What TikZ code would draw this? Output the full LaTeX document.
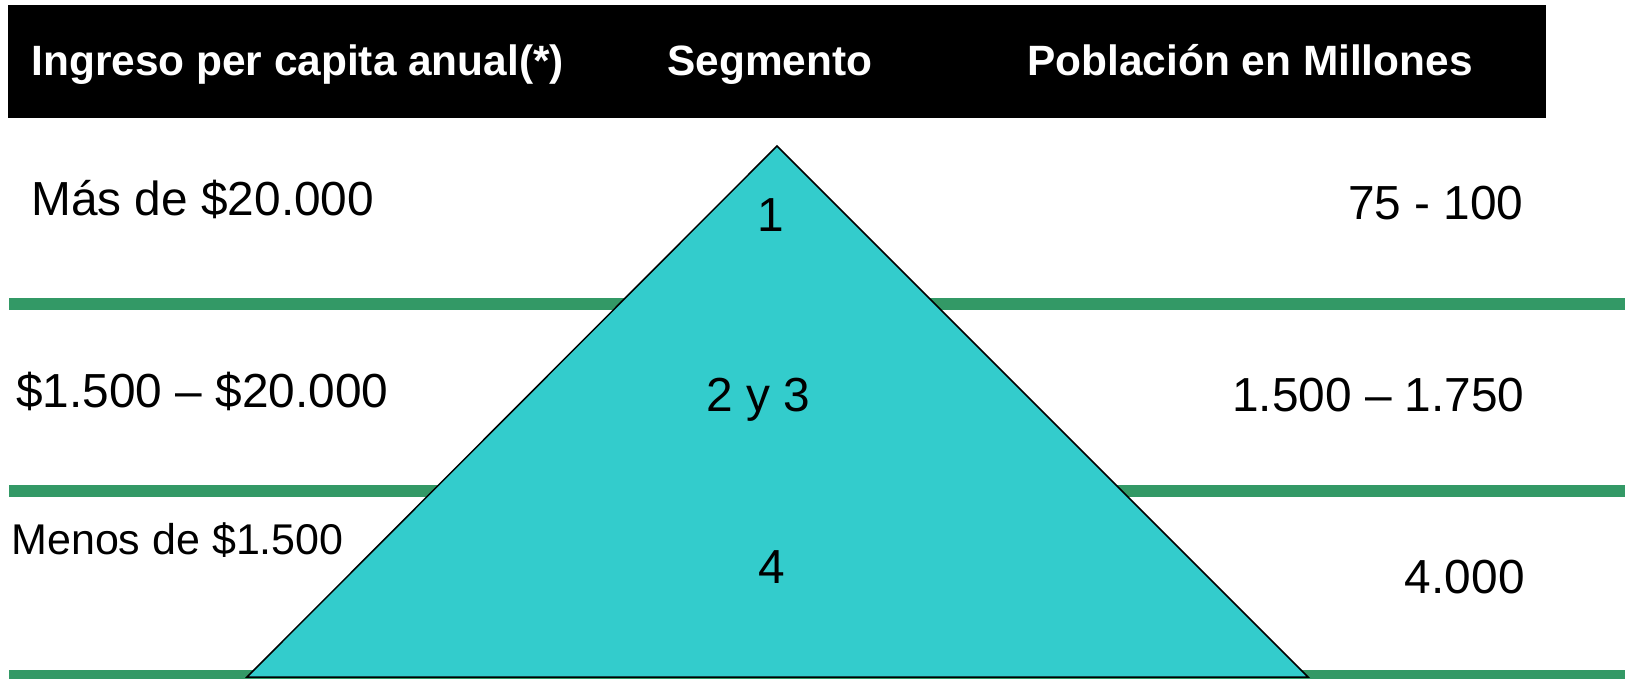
\documentclass[tikz,border=0pt]{standalone}
\usepackage{fontspec}
\setmainfont{Liberation Sans}
\usepackage{tikz}
\usetikzlibrary{positioning,calc}
\definecolor{pyramidteal}{HTML}{33CCCC}
\definecolor{rulegreen}{HTML}{339966}
\tikzset{
	headtext/.style={text=white, inner sep=0pt, font=\fontsize{21.2}{25}\selectfont\bfseries},
	celltext/.style={inner sep=0pt, font=\fontsize{23.9}{28}\selectfont},
	smallcell/.style={inner sep=0pt, font=\fontsize{21.5}{25}\selectfont},
	segrule/.style={rulegreen, line width=6pt},
	pyramid/.style={draw=black, fill=pyramidteal, line width=0.75pt, line join=miter}
}

\begin{document}
\begin{tikzpicture}[x=0.5pt, y=-0.5pt]
		\useasboundingbox (0,0) rectangle (1628,679);
		
		%% -- header bar
		\fill[black] (8,5) rectangle (1546,118);
		\node[headtext, anchor=base west] (hingreso) at (31,76) {Ingreso per capita anual(*)};
		\node[headtext, anchor=base] (hsegmento) at (770,76) {Segmento};
		\node[headtext, anchor=base] (hpoblacion) at (1250,76) {Población en Millones};
		
		%% -- green row separators
		\draw[segrule] (9,304) -- (1625,304);
		\draw[segrule] (9,491) -- (1625,491);
		\draw[segrule] (9,676) -- (1625,676);
		
		%% -- pyramid
		\coordinate (apex) at (777,146);
		\coordinate (baseL) at (247,677);
		\coordinate (baseR) at (1308,677);
		\draw[pyramid] (apex) -- (baseL) -- (baseR) -- cycle;
		
		%% -- row 1
		\node[celltext, anchor=base west] (ing1) at (31,216) {Más de \$20.000};
		\node[celltext, anchor=base] (seg1) at (771,232) {1};
		\node[celltext, anchor=base east] (pob1) at (1524,220) {75 - 100};
		
		%% -- row 2
		\node[celltext, anchor=base west] (ing2) at (16,407) {\$1.500 – \$20.000};
		\node[celltext, anchor=base] (seg2) at (758,411) {2 y 3};
		\node[celltext, anchor=base east] (pob2) at (1525,411) {1.500 – 1.750};
		
		%% -- row 3
		\node[smallcell, anchor=base west] (ing3) at (11,554) {Menos de \$1.500};
		\node[celltext, anchor=base] (seg3) at (772,583) {4};
		\node[celltext, anchor=base east] (pob3) at (1525,593) {4.000};
		
	\end{tikzpicture}
\end{document}
